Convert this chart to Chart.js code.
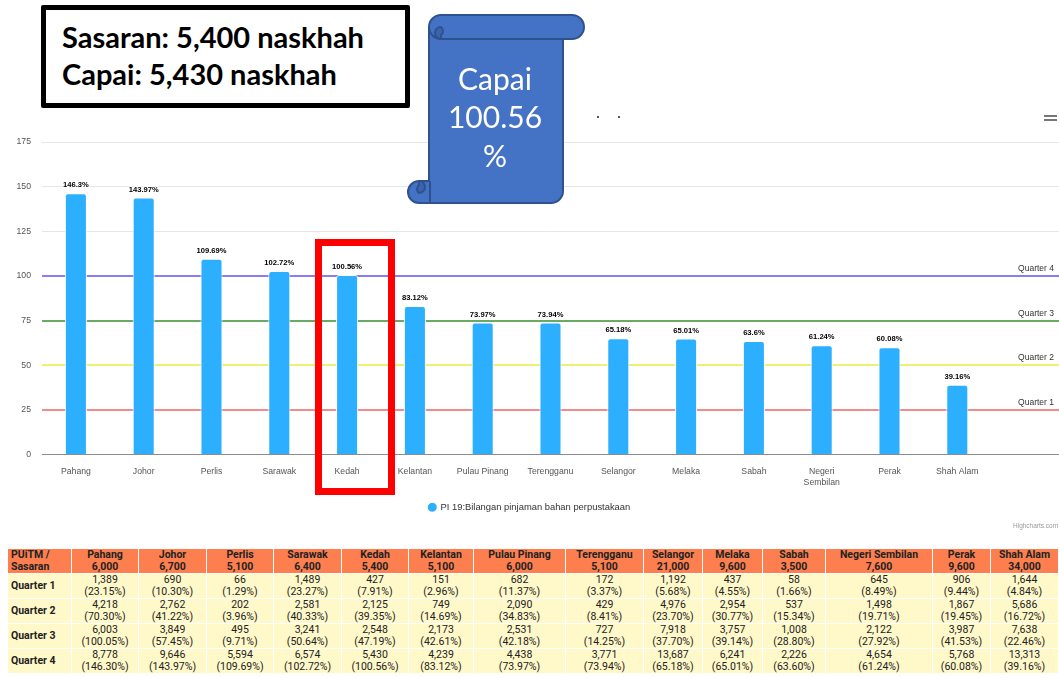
<!DOCTYPE html>
<html><head><meta charset="utf-8">
<script src="https://cdn.jsdelivr.net/npm/chart.js@4.4.1/dist/chart.umd.min.js"></script>
<style>
html,body{margin:0;padding:0;background:#fff;}
#wrap{position:relative;width:1059px;height:678px;overflow:hidden;background:#fff;}
#c{position:absolute;left:0;top:0;}
#box{position:absolute;left:41px;top:5px;width:343px;height:93px;border:5px solid #000;border-radius:2px;background:#fff;
  font-family:Lato,'Open Sans',sans-serif;font-weight:bold;font-size:29px;line-height:37px;color:#000;padding:0 0 0 16px;box-sizing:content-box;}
#box div{white-space:nowrap;}
#scroll{position:absolute;left:400px;top:8px;}
#redbox{position:absolute;left:315px;top:239px;width:66px;height:242px;border:7px solid #ff0000;}
#tbl{position:absolute;left:8px;top:549px;border-collapse:separate;border-spacing:0;table-layout:fixed;width:1051px;
  font-family:Roboto,'Liberation Sans',sans-serif;font-size:10.5px;color:#222;}
#tbl td,#tbl th{border-right:1px solid #fff;border-bottom:1px solid #fff;text-align:center;padding:0;line-height:12px;}
#tbl th{background:#fd7f4f;font-weight:bold;height:23px;}
#tbl td{background:#fff8c9;height:24px;}
#tbl .rh{text-align:left;padding-left:3px;font-weight:bold;}
.hb{position:absolute;left:1044px;width:13px;height:2px;background:#777;}
.dot{position:absolute;width:2px;height:2px;background:#555;top:116px;}
</style></head><body>
<div id="wrap">
<canvas id="c" width="1059" height="545"></canvas>
<div class="dot" style="left:597px"></div><div class="dot" style="left:618px"></div>
<div class="hb" style="top:115px"></div><div class="hb" style="top:119px"></div>
<div id="box"><div style="margin-top:8px">Sasaran: 5,400 naskhah</div><div>Capai: 5,430 naskhah</div></div>
<svg id="scroll" width="190" height="200" viewBox="0 0 190 200">
  <g stroke="#2f528f" stroke-width="2" stroke-linejoin="round">
    <path d="M29,19 L29,173 L19,173 A11,11 0 0 0 19,195 L151,195 A12,12 0 0 0 163,183 L163,19 Z" fill="#4472c4"/>
    <path d="M41,7 L172,7 A12,12 0 0 1 172,31 L41,31 A12,12 0 0 1 41,7 Z" fill="#4472c4"/>
    <path d="M41,31 A6,6 0 0 1 41,19 A5,5 0 0 1 41,27 Z" fill="#3a64ae"/>
    <path d="M19,173 A6,6 0 0 1 19,185 A5,5 0 0 1 19,177 Z" fill="#3a64ae"/>
    <line x1="30" y1="173" x2="30" y2="195" />
  </g>
  <g fill="#fff" font-family="Lato, 'Open Sans', sans-serif" font-size="30" text-anchor="middle" dominant-baseline="central">
    <text x="95" y="70">Capai</text>
    <text x="95" y="108">100.56</text>
    <text x="95" y="147">%</text>
  </g>
</svg>
<div id="redbox"></div>
<table id="tbl"></table>
</div>
<script>
// ---- chart data ----
const categories = ['Pahang','Johor','Perlis','Sarawak','Kedah','Kelantan','Pulau Pinang','Terengganu','Selangor','Melaka','Sabah','Negeri Sembilan','Perak','Shah Alam'];
const achievedPct = [146.3,143.97,109.69,102.72,100.56,83.12,73.97,73.94,65.18,65.01,63.6,61.24,60.08,39.16];
const seriesName = 'PI 19:Bilangan pinjaman bahan perpustakaan';
const quarterTargets = [25,50,75,100];
const quarterNames = ['Quarter 1','Quarter 2','Quarter 3','Quarter 4'];
const yTickMax = 175;
const yTickStep = 25;

// ---- table data ----
const targets = [6000,6700,5100,6400,5400,5100,6000,5100,21000,9600,3500,7600,9600,34000];
const q1Count = [1389,690,66,1489,427,151,682,172,1192,437,58,645,906,1644];
const q1Pct = [23.15,10.30,1.29,23.27,7.91,2.96,11.37,3.37,5.68,4.55,1.66,8.49,9.44,4.84];
const q2Count = [4218,2762,202,2581,2125,749,2090,429,4976,2954,537,1498,1867,5686];
const q2Pct = [70.30,41.22,3.96,40.33,39.35,14.69,34.83,8.41,23.70,30.77,15.34,19.71,19.45,16.72];
const q3Count = [6003,3849,495,3241,2548,2173,2531,727,7918,3757,1008,2122,3987,7638];
const q3Pct = [100.05,57.45,9.71,50.64,47.19,42.61,42.18,14.25,37.70,39.14,28.80,27.92,41.53,22.46];
const q4Count = [8778,9646,5594,6574,5430,4239,4438,3771,13687,6241,2226,4654,5768,13313];
const q4Pct = [146.30,143.97,109.69,102.72,100.56,83.12,73.97,73.94,65.18,65.01,63.60,61.24,60.08,39.16];

// ---- styles (kept apart from data) ----
const quarterColors = ['#f28b8b','#f2ee72','#6aaa64','#8a7cf2'];
const colWidths = [64,67,68,67,68,67,65,92,78,59,60,63,107,58,68];

// build table
(function(){
  const t = document.getElementById('tbl');
  let h = '<colgroup>' + colWidths.map(w=>'<col style="width:'+w+'px">').join('') + '</colgroup>';
  h += '<tr><th class="rh">PUiTM /<br>Sasaran</th>' + categories.map((c,i)=>'<th>'+c+'<br>'+targets[i].toLocaleString('en-US')+'</th>').join('') + '</tr>';
  const rows = [[q1Count,q1Pct],[q2Count,q2Pct],[q3Count,q3Pct],[q4Count,q4Pct]];
  rows.forEach((r,qi)=>{
    h += '<tr><td class="rh">'+quarterNames[qi]+'</td>' + r[0].map((v,i)=>'<td>'+v.toLocaleString('en-US')+'<br>('+r[1][i].toFixed(2)+'%)</td>').join('') + '</tr>';
  });
  t.innerHTML = h;
})();

const axisFont = {family:"'Liberation Sans', Arial, sans-serif", size:8.7};

const quarterPlugin = {
  id:'quarterLines',
  beforeDatasetsDraw(chart){
    const {ctx, chartArea, scales:{y}} = chart;
    ctx.save();
    quarterTargets.forEach((v,i)=>{
      const py = Math.round(y.getPixelForValue(v));
      ctx.strokeStyle = quarterColors[i];
      ctx.lineWidth = 2;
      ctx.beginPath(); ctx.moveTo(chartArea.left, py); ctx.lineTo(chartArea.right, py); ctx.stroke();
      ctx.fillStyle = '#333';
      ctx.font = "8.5px 'Liberation Sans', Arial, sans-serif";
      ctx.textAlign = 'right'; ctx.textBaseline = 'middle';
      ctx.fillText(quarterNames[i], chartArea.right - 5, py - 7);
    });
    ctx.restore();
  }
};

const labelPlugin = {
  id:'valueLabels',
  afterDatasetsDraw(chart){
    const {ctx} = chart;
    const meta = chart.getDatasetMeta(0);
    ctx.save();
    ctx.font = "bold 7.6px 'Liberation Sans', Arial, sans-serif";
    ctx.textAlign = 'center'; ctx.textBaseline = 'middle';
    ctx.lineJoin = 'round';
    meta.data.forEach((el,i)=>{
      const v = chart.data.datasets[0].data[i];
      if (v == null) return;
      const txt = v + '%';
      ctx.strokeStyle = '#fff'; ctx.lineWidth = 2;
      ctx.strokeText(txt, el.x, el.y - 8);
      ctx.fillStyle = '#000';
      ctx.fillText(txt, el.x, el.y - 8);
    });
    ctx.restore();
  }
};

const creditPlugin = {
  id:'credit',
  afterDraw(chart){
    const {ctx} = chart;
    ctx.save();
    ctx.font = "6.5px 'Liberation Sans', Arial, sans-serif";
    ctx.fillStyle = '#999'; ctx.textAlign = 'left'; ctx.textBaseline = 'middle';
    ctx.fillText('Highcharts.com', 1013, 526);
    ctx.restore();
  }
};

const labels = categories.map(c => c.indexOf(' ') > 0 && c.length > 12 ? c.split(' ') : c).concat(['']);

new Chart(document.getElementById('c'), {
  type:'bar',
  data:{
    labels: labels,
    datasets:[{
      label: seriesName,
      data: achievedPct.concat([null]),
      backgroundColor:'#2caffe',
      borderColor:'#ffffff',
      borderWidth:1,
      borderRadius:{topLeft:3, topRight:3},
      borderSkipped:'bottom',
      categoryPercentage:1,
      barPercentage:0.325
    }]
  },
  options:{
    responsive:false,
    animation:false,
    layout:{padding:{top:142,left:0,right:0,bottom:23}},
    scales:{
      x:{
        grid:{display:false, drawTicks:false},
        border:{display:true, color:'#8c8c8c', width:1},
        ticks:{padding:12, color:'#555', font:axisFont, maxRotation:0, autoSkip:false},
        afterFit(s){ s.height = 38; }
      },
      y:{
        min:0, max:yTickMax,
        ticks:{stepSize:yTickStep, padding:11, color:'#555', font:axisFont},
        grid:{color:'#e6e6e6', drawTicks:false},
        border:{display:false},
        afterFit(s){ s.width = 42; }
      }
    },
    plugins:{
      legend:{position:'bottom', labels:{usePointStyle:true, pointStyle:'circle', boxWidth:7, boxHeight:7, padding:10, color:'#333', font:{family:"'Liberation Sans', Arial, sans-serif", size:9.4}}},
      tooltip:{enabled:false}
    }
  },
  plugins:[quarterPlugin, labelPlugin, creditPlugin]
});
</script>
</body></html>
